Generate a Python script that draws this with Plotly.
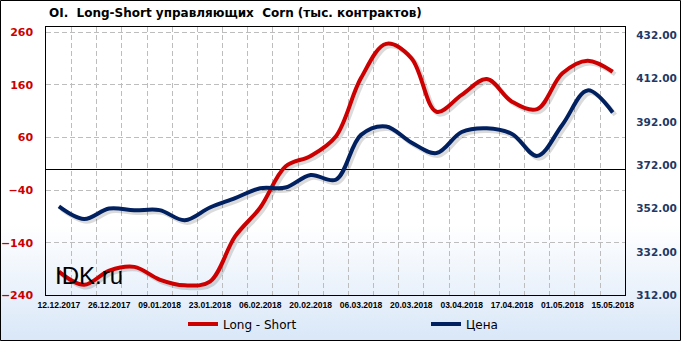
import plotly.graph_objects as go
import numpy as np

# ---------------- data ----------------
dates = ["12.12.2017", "19.12.2017", "26.12.2017", "02.01.2018", "09.01.2018",
         "16.01.2018", "23.01.2018", "30.01.2018", "06.02.2018", "13.02.2018",
         "20.02.2018", "27.02.2018", "06.03.2018", "13.03.2018", "20.03.2018",
         "27.03.2018", "03.04.2018", "10.04.2018", "17.04.2018", "24.04.2018",
         "01.05.2018", "08.05.2018", "15.05.2018"]
long_short = [-195, -220, -193, -186, -210, -221, -214, -128, -73, 5,
              25, 62, 173, 238, 211, 109, 141, 171, 128, 114,
              182, 206, 185]
price = [353.0, 347.2, 352.0, 351.2, 351.3, 346.6, 352.5, 356.8, 361.4, 361.7,
         367.5, 365.3, 386.0, 389.9, 382.5, 377.6, 387.3, 389.0, 386.4, 376.3,
         390.7, 406.5, 396.3]
tick_labels = dates[::2]
left_ticks = [-240, -140, -40, 60, 160, 260]
right_ticks = [312, 332, 352, 372, 392, 412, 432]
right_tick_text = [f"{v:.2f}" for v in right_ticks]

# ---------------- geometry / style ----------------
W, H = 681, 341
PL, PR, PT, PB = 46.3, 625.3, 27.3, 295.3
x_range = [-0.5, len(dates) - 0.5]
left_range = [-240, 269.5]
right_range = [312, 435.6]
pw, ph = PR - PL, PB - PT
SH = 2.5  # shadow offset px

RED = "#cc0000"
BLUE = "#002060"
GRID = "#bdbdbd"


def shift_x(r, px):
    u = (r[1] - r[0]) / pw
    return [r[0] - px * u, r[1] - px * u]


def shift_y(r, px):
    u = (r[1] - r[0]) / ph
    return [r[0] + px * u, r[1] + px * u]


xs = np.arange(len(dates))
fig = go.Figure()

# background gradient (whole figure)
fig.add_trace(go.Scatter(
    x=[0, 1, 1, 0, 0], y=[0, 0, 1, 1, 0], fill="toself", mode="none",
    fillgradient=dict(type="vertical",
                      colorscale=[[0, "#d9e7f8"], [0.34, "#ffffff"], [1, "#ffffff"]]),
    hoverinfo="skip", showlegend=False, xaxis="x", yaxis="y"))

# shadows
SHC = "rgba(0,0,0,0.14)"
fig.add_trace(go.Scatter(x=xs, y=long_short, mode="lines",
                         line=dict(color=SHC, width=4.5, shape="spline", smoothing=1),
                         showlegend=False, hoverinfo="skip", xaxis="x2", yaxis="y2"))
fig.add_trace(go.Scatter(x=xs, y=price, mode="lines",
                         line=dict(color=SHC, width=4.5, shape="spline", smoothing=1),
                         showlegend=False, hoverinfo="skip", xaxis="x2", yaxis="y3"))

# main lines
fig.add_trace(go.Scatter(x=xs, y=long_short, mode="lines", name="Long - Short",
                         line=dict(color=RED, width=4, shape="spline", smoothing=1),
                         xaxis="x3", yaxis="y4"))
fig.add_trace(go.Scatter(x=xs, y=price, mode="lines", name="Цена",
                         line=dict(color=BLUE, width=4, shape="spline", smoothing=1),
                         xaxis="x3", yaxis="y5"))

xdom = [PL / W, PR / W]
ydom = [1 - PB / H, 1 - PT / H]

fig.update_layout(
    width=W, height=H,
    margin=dict(l=0, r=0, t=0, b=0, autoexpand=False),
    paper_bgcolor="white",
    plot_bgcolor="rgba(0,0,0,0)",
    xaxis=dict(domain=[0, 1], range=[0, 1], visible=False, fixedrange=True),
    yaxis=dict(domain=[0, 1], range=[0, 1], visible=False, fixedrange=True),
    xaxis2=dict(domain=xdom, range=shift_x(x_range, SH), visible=False, anchor="y2"),
    yaxis2=dict(domain=ydom, range=shift_y(left_range, SH), visible=False, anchor="x2"),
    yaxis3=dict(overlaying="y2", range=shift_y(right_range, SH), visible=False, anchor="x2"),
    xaxis3=dict(overlaying="x2", anchor="y4", range=x_range, automargin=False,
                tickmode="array", tickvals=xs[::2], ticktext=tick_labels,
                ticks="", showgrid=False, zeroline=False,
                showline=True, mirror=True, linecolor="black", linewidth=1,
                tickfont=dict(family="Liberation Sans", size=8.5, color="black", weight="bold"),
                ticklabelstandoff=1,
                minor=dict(tickmode="linear", tick0=-0.5, dtick=1, showgrid=True,
                           gridcolor=GRID, griddash="5px,3px", gridwidth=1, ticks="")),
    yaxis4=dict(overlaying="y2", anchor="x3", side="left", range=left_range, automargin=False,
                tickmode="array", tickvals=left_ticks, ticks="",
                showgrid=True, gridcolor=GRID, griddash="5px,3px", gridwidth=1,
                zeroline=True, zerolinecolor="black", zerolinewidth=1,
                showline=True, mirror=True, linecolor="black", linewidth=1,
                tickfont=dict(family="DejaVu Sans", size=11, color=RED, weight="bold"),
                ticklabelstandoff=10),
    yaxis5=dict(overlaying="y2", anchor="x3", side="right", range=right_range, automargin=False,
                tickmode="array", tickvals=right_ticks, ticktext=right_tick_text, ticks="",
                showgrid=False, zeroline=False, showline=False,
                tickfont=dict(family="DejaVu Sans", size=10.5, color="#1f3864", weight="bold"),
                ticklabelstandoff=10),
    legend=dict(orientation="h", x=183 / W, xanchor="left", y=1 - 324 / H, yanchor="middle",
                bgcolor="rgba(0,0,0,0)", borderwidth=0,
                font=dict(family="DejaVu Sans", size=12, color="black"),
                entrywidth=198, entrywidthmode="pixels", itemwidth=30),
    annotations=[
        dict(text="<b>OI.  Long-Short управляющих  Corn (тыс. контрактов)</b>",
             x=236 / W, y=1 - 13 / H, xref="paper", yref="paper",
             xanchor="center", yanchor="middle", showarrow=False,
             font=dict(family="DejaVu Sans", size=12, color="black")),
        dict(text="IDK.ru", x=53 / W, y=1 - 275 / H, xref="paper", yref="paper",
             xanchor="left", yanchor="middle", showarrow=False,
             font=dict(family="Liberation Sans", size=24, color="black")),
    ],
    shapes=[
        dict(type="rect", xref="paper", yref="paper",
             x0=49 / W, x1=630 / W, y0=1 - 337 / H, y1=1 - 311 / H,
             line=dict(color="black", width=1), fillcolor="rgba(0,0,0,0)", layer="below"),
        dict(type="rect", xref="paper", yref="paper",
             x0=0.5 / W, x1=1 - 0.5 / W, y0=0.5 / H, y1=1 - 0.5 / H,
             line=dict(color="black", width=1), fillcolor="rgba(0,0,0,0)", layer="above"),
    ],
    showlegend=True,
)

fig.write_html("out.html")
